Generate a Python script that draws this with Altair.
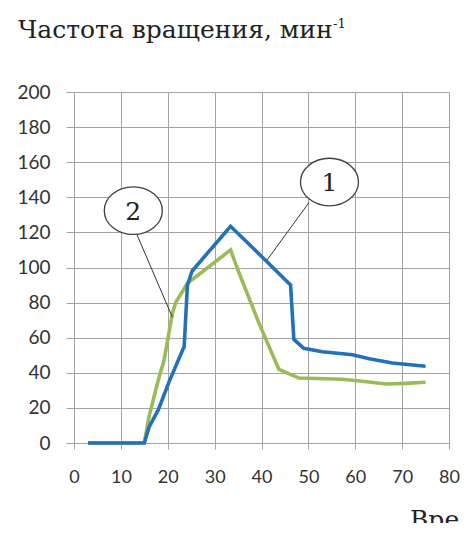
import altair as alt
import pandas as pd

# Curve 1 (blue)
t1 = [3, 15, 16, 18, 20.3, 23.5, 24.2, 25.2, 33.4, 40.9, 46.2, 46.9, 49, 53, 59.4, 63, 67.9, 75]
v1 = [0, 0, 9, 19, 35, 55, 90, 98, 123.5, 104, 90, 59, 54, 52, 50.3, 48, 45.6, 43.7]
# Curve 2 (green)
t2 = [3, 15, 16, 18, 19.2, 21, 21.7, 24.2, 33.4, 35.2, 39.5, 43.7, 48, 57.2, 62, 66.5, 70.8, 75]
v2 = [0, 0, 15, 36, 47, 74, 80, 91, 110, 97, 68, 42, 37, 36.3, 35, 33.6, 34, 34.6]

x_ticks = [0, 10, 20, 30, 40, 50, 60, 70, 80]
y_ticks = [0, 20, 40, 60, 80, 100, 120, 140, 160, 180, 200]

# callouts: label, circle centre, leader start, leader end
call_lab = ["1", "2"]
call_x = [54.5, 12.65]
call_y = [148.7, 132.4]
lead_x1 = [50.1, 13.3]
lead_y1 = [136.9, 119.5]
lead_x2 = [41.2, 21.0]
lead_y2 = [104.3, 71.6]

title_text = "Частота вращения, мин"
title_sup = "-1"
x_title = "Время, с"

df1 = pd.DataFrame({"t": t1, "v": v1})
df2 = pd.DataFrame({"t": t2, "v": v2})
dcall = pd.DataFrame({"lab": call_lab, "x": call_x, "y": call_y,
                      "x1": lead_x1, "y1": lead_y1, "x2": lead_x2, "y2": lead_y2})

GRID = "#a3a3a3"
SERIF = "DejaVu Serif"
xs = alt.Scale(domain=[0, 80], nice=False)
ys = alt.Scale(domain=[0, 200], nice=False)

xaxis = alt.Axis(values=x_ticks, title=None, grid=True, gridColor=GRID, domainColor=GRID,
                 tickColor=GRID, tickSize=6, labelPadding=19, labelFont="Lato",
                 labelFontSize=18, labelColor="#333333", labelFlush=False, labelOverlap=False)
yaxis = alt.Axis(values=y_ticks, title=None, grid=True, gridColor=GRID, domainColor=GRID,
                 tickColor=GRID, tickSize=8, labelPadding=16, labelFont="Lato",
                 labelFontSize=19, labelColor="#333333", labelOverlap=False)

green = alt.Chart(df2).mark_line(color="#9bbb59", strokeWidth=3.6).encode(
    x=alt.X("t:Q", scale=xs, axis=xaxis), y=alt.Y("v:Q", scale=ys, axis=yaxis))
blue = alt.Chart(df1).mark_line(color="#2372b8", strokeWidth=3.6).encode(
    x=alt.X("t:Q", scale=xs, axis=xaxis), y=alt.Y("v:Q", scale=ys, axis=yaxis))

leaders = alt.Chart(dcall).mark_rule(color="#333333", strokeWidth=1).encode(
    x=alt.X("x1:Q", scale=xs, axis=xaxis), y=alt.Y("y1:Q", scale=ys, axis=yaxis),
    x2="x2:Q", y2="y2:Q")

ellipse = "M-1,0A1,0.82,0,1,1,1,0A1,0.82,0,1,1,-1,0Z"
circles = alt.Chart(dcall).mark_point(shape=ellipse, size=3364, filled=True, color="white",
                                      stroke="#404040", strokeWidth=1.3, opacity=1).encode(
    x=alt.X("x:Q", scale=xs, axis=xaxis), y=alt.Y("y:Q", scale=ys, axis=yaxis))
labels = alt.Chart(dcall).mark_text(font=SERIF, fontSize=25, color="#222222",
                                    baseline="middle", align="center", dy=1).encode(
    x=alt.X("x:Q", scale=xs, axis=xaxis), y=alt.Y("y:Q", scale=ys, axis=yaxis), text="lab:N")

dtitle = pd.DataFrame({"s": [title_text]})
title = alt.Chart(dtitle).mark_text(font=SERIF, fontSize=25, color="#222222",
                                    align="left", baseline="alphabetic").encode(
    x=alt.value(-56), y=alt.value(-54), text="s:N")
dsup = pd.DataFrame({"s": [title_sup]})
sup = alt.Chart(dsup).mark_text(font=SERIF, fontSize=13, color="#222222",
                                align="left", baseline="alphabetic").encode(
    x=alt.value(259), y=alt.value(-64), text="s:N")
dxt = pd.DataFrame({"s": [x_title]})
xt = alt.Chart(dxt).mark_text(font=SERIF, fontSize=25, color="#222222",
                              align="left", baseline="alphabetic").encode(
    x=alt.value(336), y=alt.value(436), text="s:N")

chart = alt.layer(green, blue, leaders, circles, labels, title, sup, xt).properties(
    width=375, height=351,
    autosize=alt.AutoSizeParams(type="none"),
    padding={"left": 66, "top": 84, "right": 11, "bottom": 80},
    background="white",
).configure_view(stroke=None)

chart.save("out.html", embed_options={"renderer": "svg", "actions": False})
